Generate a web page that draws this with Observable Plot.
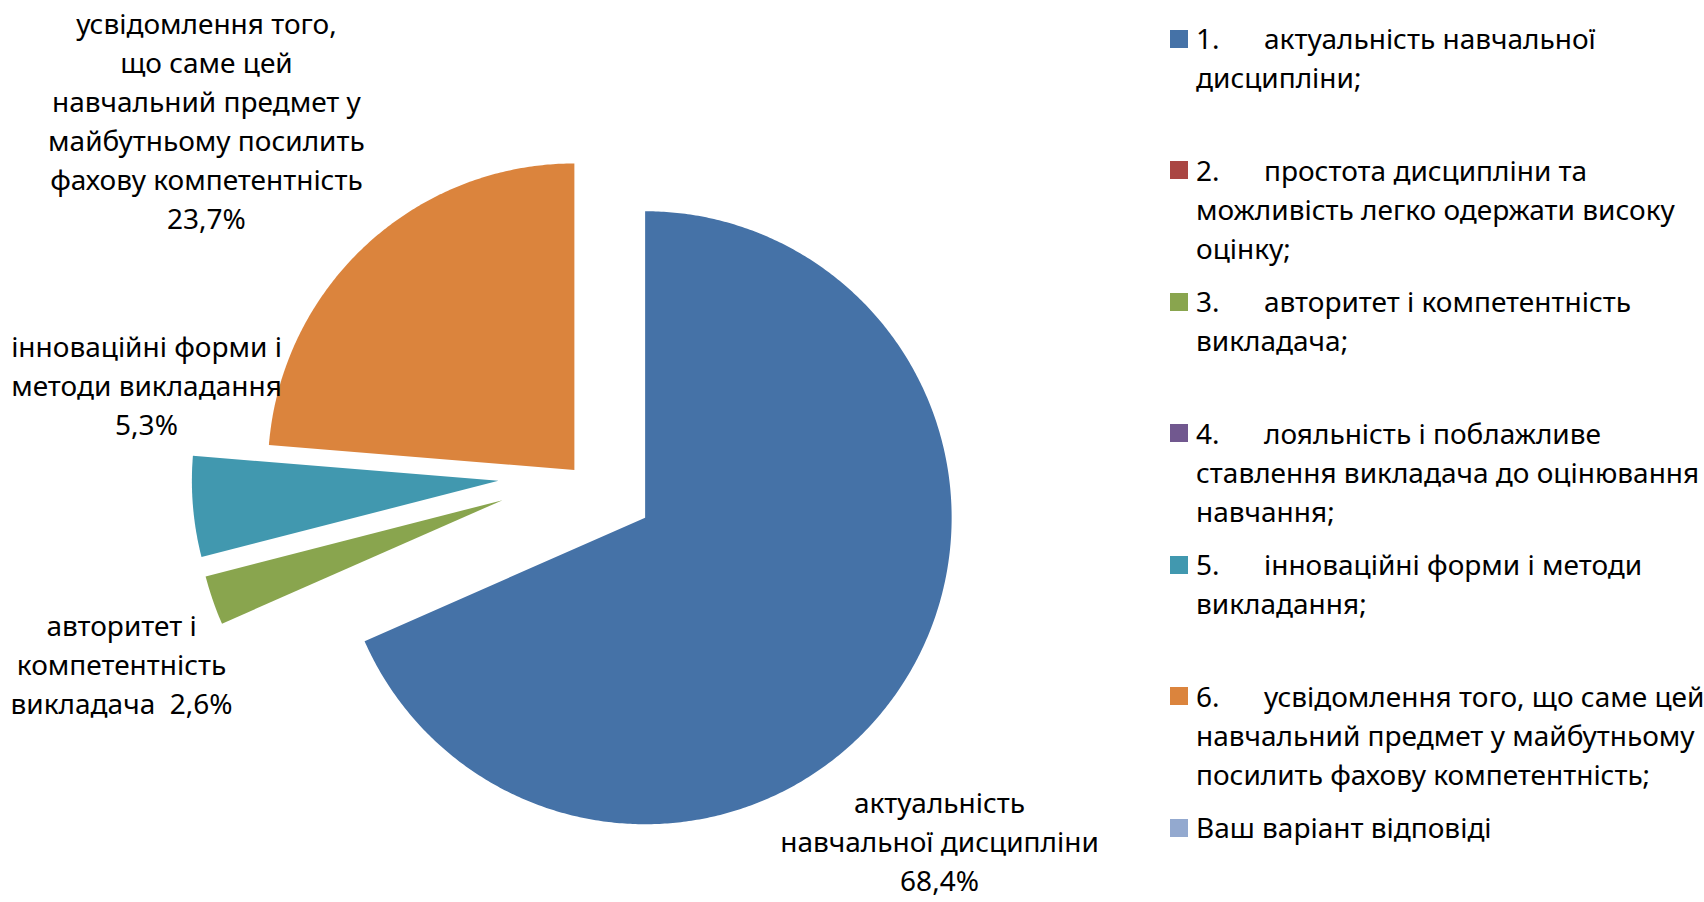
<!DOCTYPE html>
<html><head><meta charset="utf-8">
<script src="https://cdn.jsdelivr.net/npm/d3@7"></script>
<script src="https://cdn.jsdelivr.net/npm/@observablehq/plot@0.6"></script>
<style>
body{margin:0;background:#fff;font-family:"Noto Sans",sans-serif;}
#wrap{position:relative;width:1704px;height:902px;overflow:hidden;}
#chart{position:absolute;left:0;top:0;}
#legend{position:absolute;left:1170px;top:19px;font-size:28px;color:#000;}
.entry{position:relative;height:131.5px;}
.sw{position:absolute;left:0;top:10.5px;width:18px;height:18px;}
.txt{position:absolute;left:26px;top:0;line-height:39px;white-space:nowrap;}
.num{display:inline-block;width:68px;}
</style></head><body><div id="wrap"><div id="chart"></div><div id="legend"></div></div>
<script>
// ---- data ----
const categories = [
  "актуальність навчальної дисципліни",
  "простота дисципліни та можливість легко одержати високу оцінку",
  "авторитет і компетентність викладача",
  "лояльність і поблажливе ставлення викладача до оцінювання навчання",
  "інноваційні форми і методи викладання",
  "усвідомлення того, що саме цей навчальний предмет у майбутньому посилить фахову компетентність",
  "Ваш варіант відповіді"
];
const values = [68.4, 0, 2.6, 0, 5.3, 23.7, 0];
const colors = ["#4572A7", "#AA4643", "#89A54E", "#71588F", "#4198AF", "#DB843D", "#93A9CF"];
const legendNumbers = ["1.", "2.", "3.", "4.", "5.", "6.", ""];
const legendLines = [
  ["актуальність навчальної", "дисципліни;"],
  ["простота дисципліни та", "можливість легко одержати високу", "оцінку;"],
  ["авторитет і компетентність", "викладача;"],
  ["лояльність і поблажливе", "ставлення викладача до оцінювання", "навчання;"],
  ["інноваційні форми і методи", "викладання;"],
  ["усвідомлення того, що саме цей", "навчальний предмет у майбутньому", "посилить фахову компетентність;"],
  ["Ваш варіант відповіді"]
];
const sliceLabels = [
  "актуальність\nнавчальної дисципліни\n68,4%",
  null,
  "авторитет і\nкомпетентність\nвикладача\u00a0 2,6%",
  null,
  "інноваційні форми і\nметоди викладання\n5,3%",
  "усвідомлення того,\nщо саме цей\nнавчальний предмет у\nмайбутньому посилить\nфахову компетентність\n23,7%",
  null
];
// ---- layout (style) ----
const explode = [0.261, 0, 0.261, 0, 0.261, 0.018, 0];
const labelAngle = [135.63, 0, 247.1, 0, 281.3, 313.4, 0];
const labelRadius = [1.686, 0, 1.617, 0, 1.436, 1.669, 0];

const total = d3.sum(values);
const rad = (deg) => deg * Math.PI / 180;
const pts = [];
const labels = [];
let a0 = 0;
values.forEach((v, i) => {
  const a1 = a0 + v / total * 360;
  if (v > 0) {
    const mid = (a0 + a1) / 2;
    const ox = explode[i] * Math.sin(rad(mid));
    const oy = explode[i] * Math.cos(rad(mid));
    pts.push({cat: categories[i], x: ox, y: oy});
    const n = Math.max(2, Math.ceil((a1 - a0) / 0.5));
    for (let k = 0; k <= n; k++) {
      const a = a0 + (a1 - a0) * k / n;
      pts.push({cat: categories[i], x: ox + Math.sin(rad(a)), y: oy + Math.cos(rad(a))});
    }
    pts.push({cat: categories[i], x: ox, y: oy});
  }
  if (sliceLabels[i]) {
    labels.push({
      text: sliceLabels[i],
      x: labelRadius[i] * Math.sin(rad(labelAngle[i])),
      y: labelRadius[i] * Math.cos(rad(labelAngle[i]))
    });
  }
  a0 = a1;
});

const plot = Plot.plot({
  width: 1160,
  height: 902,
  margin: 0,
  style: {fontFamily: "'Noto Sans', sans-serif", background: "white"},
  x: {domain: [-1.8845, 1.900], axis: null},
  y: {domain: [-1.398, 1.5449], axis: null},
  color: {domain: categories, range: colors},
  marks: [
    Plot.line(pts, {x: "x", y: "y", z: "cat", fill: "cat", stroke: "none", curve: "linear"}),
    Plot.text(labels, {x: "x", y: "y", text: "text", fontSize: 28, lineHeight: 1.393, dy: -4,
      textAnchor: "middle", lineAnchor: "middle", fill: "black"})
  ]
});
document.getElementById("chart").appendChild(plot);

const colorScale = plot.scale("color");
const legend = document.getElementById("legend");
categories.forEach((c, i) => {
  const e = document.createElement("div");
  e.className = "entry";
  const sw = document.createElement("div");
  sw.className = "sw";
  sw.style.background = colorScale.apply(c);
  e.appendChild(sw);
  const t = document.createElement("div");
  t.className = "txt";
  legendLines[i].forEach((line, j) => {
    if (j > 0) t.appendChild(document.createElement("br"));
    if (j === 0 && legendNumbers[i]) {
      const s = document.createElement("span");
      s.className = "num";
      s.textContent = legendNumbers[i];
      t.appendChild(s);
    }
    t.appendChild(document.createTextNode(line));
  });
  e.appendChild(t);
  legend.appendChild(e);
});
</script></body></html>
